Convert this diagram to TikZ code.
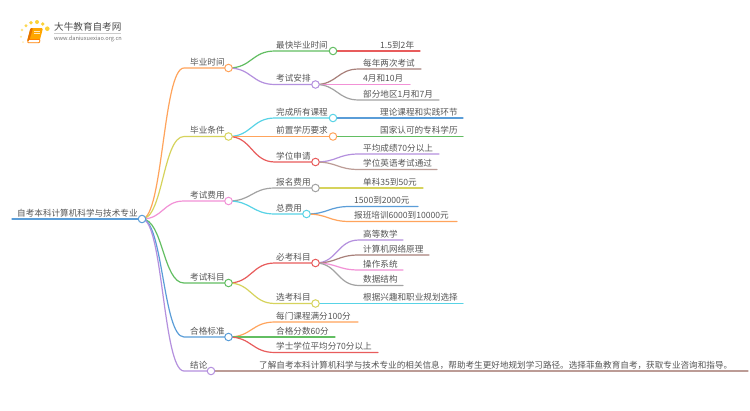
\documentclass[tikz,border=0pt]{standalone}
\usepackage{fontspec}
\setmainfont{Noto Sans CJK SC}
\usetikzlibrary{calc,backgrounds}
\definecolor{cOrange}{HTML}{FFA45C}
\definecolor{cOlive}{HTML}{D6D35C}
\definecolor{cPink}{HTML}{F291D6}
\definecolor{cGreen}{HTML}{62BE62}
\definecolor{cBlue}{HTML}{5A9DD8}
\definecolor{cPurple}{HTML}{B490DE}
\definecolor{cRed}{HTML}{E85C5C}
\definecolor{cBrown}{HTML}{A8807A}
\definecolor{cGray}{HTML}{A3A3A3}
\definecolor{cCyan}{HTML}{58D3E6}
\definecolor{cRose}{HTML}{BC9C96}
\definecolor{cText}{HTML}{555555}
\tikzset{
  dotnode/.style={circle,draw=#1,fill=white,line width=1pt,inner sep=0pt,minimum size=7.5pt},
  conn/.style={draw=#1,line width=1.2pt,line cap=round},
  lab/.style={anchor=south west,inner sep=0pt,text=cText,font=\fontsize{8.6pt}{9pt}\selectfont,text height=8pt,text depth=1pt}
}
% parent, name, x of curve end, x of dot, y, colour, text, text x
\newcommand{\branchnode}[8]{%
  \coordinate (#2-s) at (#3,#5);
  \node[dotnode=#6] (#2) at (#4,#5) {};
  \node[lab] (#2-t) at (#8,#5-1.5) {#7};
  \begin{scope}[on background layer]
  \draw[conn=#6] let \p1=(#1.center),\p2=(#2-s),\n1={(\x1+\x2)/2} in (#1.center) .. controls (\n1,\y1) and (\n1,\y2) .. (#2-s) -- (#2.center);
  \end{scope}}
% parent, name, x of curve end, x of line end, y, colour, text x, text
\newcommand{\leafnode}[8]{%
  \coordinate (#2-s) at (#3,#5);
  \coordinate (#2-e) at (#4,#5);
  \node[lab] (#2-t) at (#7,#5-1.5) {#8};
  \begin{scope}[on background layer]
  \draw[conn=#6] let \p1=(#1.center),\p2=(#2-s),\n1={(\x1+\x2)/2} in (#1.center) .. controls (\n1,\y1) and (\n1,\y2) .. (#2-s) -- (#2-e);
  \end{scope}}
\begin{document}
\begin{tikzpicture}[x=1pt,y=-1pt]
\useasboundingbox (0,0) rectangle (750,410);
\begin{scope}[on background layer]
\fill[white] (0,0) rectangle (750,410);
\end{scope}
% logo
\foreach \px/\py/\r/\o in {26/25.7/1.7/.7,31/22.7/1.9/.8,37/22/2/.8,42.7/24/1.9/.8,47.3/28.7/2.3/.8,22/30/1.4/.5,21/36.7/1.2/.4,23/42/1/.3}
  \fill[yellow!60!orange,opacity=\o] (\px,\py) circle (\r);
\fill[orange!70!yellow,rounded corners=1.2pt] (30.5,28) -- (43,28) -- (39.5,41.5) -- (27,41.5) -- cycle;
\draw[orange,line width=.8pt,fill=white,rounded corners=.8pt] (28.5,39.5) -- (40,39.5) -- (39.5,42.7) -- (27.5,42.7) -- cycle;
\fill[orange!90!black,rounded corners=1pt] (30.5,28) -- (33,28) -- (29.5,40) -- (27,41.5) -- cycle;
\fill[white,opacity=.75] (34,30.5) rectangle (40,31.4);
\fill[white,opacity=.75] (33.5,32.8) rectangle (39.5,33.7);
\node[anchor=west,inner sep=0pt,text=black!70,font=\fontsize{9.6pt}{10pt}\selectfont] (logoA) at (54,27) {大牛教育自考网};
\coordinate (logoL) at (54,33.3);
\coordinate (logoR) at (121,33.3);
\draw[black!20,line width=.5pt] (logoL) -- (logoR);
\node[anchor=west,inner sep=0pt,text=black!55,font=\fontsize{5.6pt}{6pt}\selectfont] (logoB) at (54,38.8) {www.daniuxuexiao.org.cn};
% root
\coordinate (root-s) at (12,219);
\node[dotnode=cBlue] (root) at (142,219) {};
\node[lab] (root-t) at (17,217.5) {自考本科计算机科学与技术专业};
\begin{scope}[on background layer]
\draw[conn=cBlue] (root-s) -- (root.center);
\end{scope}
% level 1
\branchnode{root}{a}{184}{228.5}{68}{cOrange}{毕业时间}{190}
\branchnode{root}{b}{184}{228.5}{136.5}{cOlive}{毕业条件}{190}
\branchnode{root}{c}{184}{228.5}{201}{cPink}{考试费用}{190}
\branchnode{root}{d}{184}{228.5}{283}{cGreen}{考试科目}{190}
\branchnode{root}{e}{184}{228.5}{337}{cBlue}{合格标准}{190}
\branchnode{root}{f}{184}{211}{371}{cPurple}{结论}{190}
% level 2
\branchnode{a}{a1}{275}{333}{51}{cGreen}{最快毕业时间}{276}
\branchnode{a}{a2}{275}{315.5}{84.5}{cPurple}{考试安排}{276}
\branchnode{b}{b1}{275}{333}{118}{cCyan}{完成所有课程}{276}
\branchnode{b}{b2}{275}{333}{136.5}{cOrange}{前置学历要求}{276}
\branchnode{b}{b3}{275}{315.5}{162}{cRed}{学位申请}{276}
\branchnode{c}{c1}{275}{315.5}{188}{cGray}{报名费用}{276}
\branchnode{c}{c2}{275}{306.5}{214}{cCyan}{总费用}{276}
\branchnode{d}{d1}{275}{315.5}{263}{cRed}{必考科目}{276}
\branchnode{d}{d2}{275}{315.5}{303.5}{cOlive}{选考科目}{276}
% leaves
\leafnode{a1}{l1}{333}{420}{51}{cRed}{380}{1.5到2年}
\leafnode{a2}{l2}{359}{421}{69}{cBrown}{363}{每年两次考试}
\leafnode{a2}{l3}{359}{410}{84.5}{cPink}{363}{4月和10月}
\leafnode{a2}{l4}{359}{439}{100}{cGray}{363}{部分地区1月和7月}
\leafnode{b1}{l5}{333}{463}{118}{cBlue}{380}{理论课程和实践环节}
\leafnode{b2}{l6}{333}{463}{136.5}{cGreen}{380}{国家认可的专科学历}
\leafnode{b3}{l7}{359}{439}{154}{cPurple}{363}{平均成绩70分以上}
\leafnode{b3}{l8}{359}{437}{169.5}{cRose}{363}{学位英语考试通过}
\leafnode{c1}{l9}{333}{423}{188}{cOlive}{363}{单科35到50元}
\leafnode{c2}{l10}{350}{418}{206.5}{cBlue}{354}{1500到2000元}
\leafnode{c2}{l11}{350}{457}{221.5}{cOrange}{354}{报班培训6000到10000元}
\leafnode{d1}{l12}{359}{403}{240}{cPurple}{363}{高等数学}
\leafnode{d1}{l13}{359}{429}{255}{cBrown}{363}{计算机网络原理}
\leafnode{d1}{l14}{359}{403}{270}{cPink}{363}{操作系统}
\leafnode{d1}{l15}{359}{403}{285.5}{cGray}{363}{数据结构}
\leafnode{d2}{l16}{333}{463}{303.5}{cCyan}{363}{根据兴趣和职业规划选择}
\leafnode{e}{l17}{275}{358}{322}{cOrange}{276}{每门课程满分100分}
\leafnode{e}{l18}{275}{335}{337}{cGreen}{276}{合格分数60分}
\leafnode{e}{l19}{275}{378}{352.5}{cRed}{276}{学士学位平均分70分以上}
\leafnode{f}{l20}{255}{748}{371}{cRose}{259}{了解自考本科计算机科学与技术专业的相关信息，帮助考生更好地规划学习路径。选择菲鱼教育自考，获取专业咨询和指导。}
\end{tikzpicture}
\end{document}
